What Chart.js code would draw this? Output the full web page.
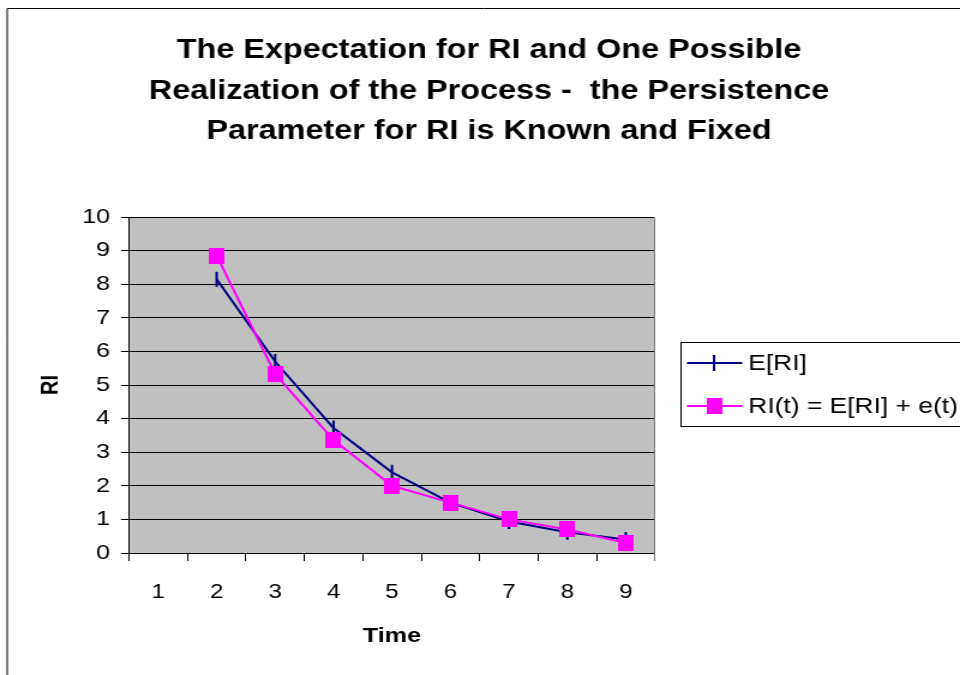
<!DOCTYPE html>
<html>
<head>
<meta charset="utf-8">
<script src="https://cdn.jsdelivr.net/npm/chart.js@4.4.0/dist/chart.umd.min.js"></script>
<style>
  html, body { margin: 0; padding: 0; background: #fff; }
</style>
</head>
<body>
<!-- the original picture is wider than its text heights suggest, so the
     canvas is drawn 800 wide and shown stretched to 960 -->
<canvas id="chart" width="800" height="675" style="width:960px;height:675px;display:block"></canvas>
<script>
const timeLabels = ['1', '2', '3', '4', '5', '6', '7', '8', '9'];
const expectedRI = [null, 8.15, 5.7, 3.72, 2.4, 1.5, 0.94, 0.62, 0.4];
const realizedRI = [null, 8.85, 5.33, 3.36, 2.0, 1.5, 1.0, 0.7, 0.3];
const riTicks = [0, 1, 2, 3, 4, 5, 6, 7, 8, 9, 10];

const titleLines = [
  'The Expectation for RI and One Possible',
  'Realization of the Process -  the Persistence',
  'Parameter for RI is Known and Fixed'
];
const seriesNames = ['E[RI]', 'RI(t) = E[RI] + e(t)'];

const FONT = "'Liberation Sans', Arial, sans-serif";
const NAVY = '#000080';
const MAGENTA = '#FF00FF';

// square marker for RI(t), slightly narrower so it looks square after the stretch
const squareMark = document.createElement('canvas');
squareMark.width = 13;
squareMark.height = 16;
const sq = squareMark.getContext('2d');
sq.fillStyle = MAGENTA;
sq.fillRect(0, 0, 13, 16);

const framePlugin = {
  id: 'frame',
  beforeDraw(chart) {
    const { ctx, chartArea: a } = chart;
    ctx.save();
    ctx.fillStyle = '#fff';
    ctx.fillRect(0, 0, chart.width, chart.height);
    // outer chart frame (runs off the right and bottom edges)
    ctx.strokeStyle = '#000';
    ctx.lineWidth = 1;
    ctx.beginPath();
    ctx.moveTo(6, 700);
    ctx.lineTo(6, 8.5);
    ctx.lineTo(820, 8.5);
    ctx.stroke();
    // grey plot area
    ctx.fillStyle = '#c0c0c0';
    ctx.fillRect(a.left, a.top, a.width, a.height);
    ctx.restore();
  },
  afterDraw(chart) {
    const { ctx, chartArea: a } = chart;
    ctx.save();

    // right edge of the plot area
    ctx.strokeStyle = '#808080';
    ctx.lineWidth = 1;
    ctx.beginPath();
    ctx.moveTo(Math.round(a.right) - 0.5, a.top);
    ctx.lineTo(Math.round(a.right) - 0.5, a.bottom + 8);
    ctx.stroke();

    // title
    ctx.fillStyle = '#000';
    ctx.font = 'bold 27px ' + FONT;
    ctx.textAlign = 'center';
    ctx.textBaseline = 'alphabetic';
    titleLines.forEach((line, i) => ctx.fillText(line, 407.5, 58 + i * 40.5));

    // legend box
    ctx.strokeStyle = '#000';
    ctx.strokeRect(567.5, 342.5, 300, 84);

    const ds = chart.data.datasets;
    const rows = [363, 406];
    ctx.font = '22px ' + FONT;
    ctx.textAlign = 'left';
    ctx.textBaseline = 'middle';
    rows.forEach((y, i) => {
      ctx.strokeStyle = ds[i].borderColor;
      ctx.lineWidth = 2;
      ctx.beginPath();
      ctx.moveTo(572.5, y);
      ctx.lineTo(618.5, y);
      ctx.stroke();
      if (i === 0) {
        ctx.beginPath();
        ctx.moveTo(595, y - 8);
        ctx.lineTo(595, y + 8);
        ctx.stroke();
      } else {
        ctx.drawImage(squareMark, 595 - 6.5, y - 8);
      }
      ctx.fillStyle = '#000';
      ctx.fillText(seriesNames[i], 623.5, y + 1);
    });
    ctx.restore();
  }
};

new Chart(document.getElementById('chart'), {
  type: 'line',
  data: {
    labels: timeLabels,
    datasets: [
      {
        label: seriesNames[0],
        data: expectedRI,
        borderColor: NAVY,
        backgroundColor: NAVY,
        borderWidth: 2,
        tension: 0,
        pointStyle: 'line',
        rotation: 90,
        pointRadius: 7.5,
        pointBorderWidth: 2,
        pointBorderColor: NAVY,
        order: 1
      },
      {
        label: seriesNames[1],
        data: realizedRI,
        borderColor: MAGENTA,
        backgroundColor: MAGENTA,
        borderWidth: 2,
        tension: 0,
        pointStyle: squareMark,
        pointRadius: 8,
        order: 0
      }
    ]
  },
  options: {
    responsive: false,
    animation: false,
    devicePixelRatio: 1,
    layout: { padding: { left: 20, right: 254.2, top: 217, bottom: 0 } },
    plugins: {
      legend: { display: false },
      title: { display: false },
      tooltip: { enabled: false }
    },
    scales: {
      x: {
        type: 'category',
        offset: true,
        grid: { offset: true, drawOnChartArea: false, tickLength: 8, color: '#000' },
        border: { color: '#000' },
        ticks: { color: '#000', font: { family: FONT, size: 20 }, padding: 19, maxRotation: 0, autoSkip: false },
        title: {
          display: true, text: 'Time', color: '#000',
          font: { family: FONT, size: 21, weight: 'bold' },
          padding: { top: 0, bottom: 26 }
        },
        afterFit(s) { s.height = 122; }
      },
      y: {
        min: 0,
        max: 10,
        afterBuildTicks(s) { s.ticks = riTicks.map(v => ({ value: v })); },
        grid: { color: '#000', tickLength: 6.7 },
        border: { color: '#000' },
        ticks: { color: '#000', font: { family: FONT, size: 21 }, padding: 9 },
        title: {
          display: true, text: 'RI', color: '#000',
          font: { family: FONT, size: 20, weight: 'bold' },
          padding: { top: 10, bottom: 0 }
        },
        afterFit(s) { s.width = 87.5; }
      }
    }
  },
  plugins: [framePlugin]
});
</script>
</body>
</html>
